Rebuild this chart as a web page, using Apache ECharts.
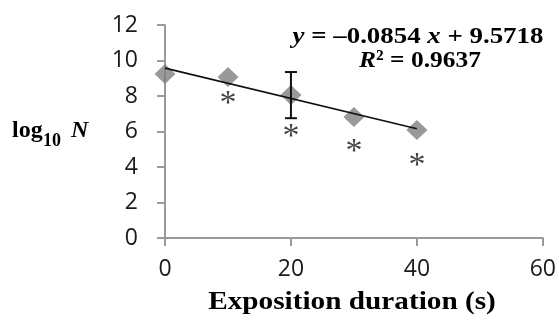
<!DOCTYPE html>
<html>
<head>
<meta charset="utf-8">
<script src="https://cdn.jsdelivr.net/npm/echarts@6/dist/echarts.min.js"></script>
<style>
html,body{margin:0;padding:0;background:#fff;}
#chart{width:559px;height:322px;}
</style>
</head>
<body>
<div id="chart"></div>
<script>
// Data
var durations = [0, 10, 20, 30, 40];
var logN = [9.24, 9.07, 8.06, 6.82, 6.08];
// error bar (only at 20 s): [x, low, high]
var errorBars = [[20, 6.75, 9.35]];
// trend line endpoints (y = -0.0854x + 9.5718)
var trendX = [0, 40];
var trendY = [9.57, 6.16];
// significance asterisks: x, y position
var starX = [10, 20, 30, 40];
var starY = [7.77, 5.92, 5.07, 4.28];
var xTicks = [0, 20, 40, 60];
var yTicks = [0, 2, 4, 6, 8, 10, 12];

var chart = echarts.init(document.getElementById('chart'), null, {renderer: 'canvas'});

var axisColor = '#9a9a9a';
var tickFont = 'Open Sans';
var serif = 'Liberation Serif';

var option = {
  animation: false,
  backgroundColor: '#fff',
  grid: {left: 165, right: 16, top: 25, bottom: 84, containLabel: false},
  xAxis: {
    type: 'value', min: xTicks[0], max: xTicks[xTicks.length - 1], interval: 20,
    axisLine: {show: true, lineStyle: {color: axisColor, width: 2}},
    axisTick: {show: true, length: 8, lineStyle: {color: axisColor, width: 2}},
    splitLine: {show: false},
    axisLabel: {margin: 20, fontSize: 23, fontFamily: tickFont, color: '#1a1a1a'}
  },
  yAxis: {
    type: 'value', min: yTicks[0], max: yTicks[yTicks.length - 1], interval: 2,
    axisLine: {show: true, lineStyle: {color: axisColor, width: 2}},
    axisTick: {show: true, length: 8, lineStyle: {color: axisColor, width: 2}},
    splitLine: {show: false},
    axisLabel: {margin: 27, fontSize: 23, fontFamily: tickFont, color: '#1a1a1a'}
  },
  series: [
    {
      type: 'scatter',
      data: durations.map(function (d, i) { return [d, logN[i]]; }),
      symbol: 'diamond',
      symbolSize: [21, 20],
      itemStyle: {color: '#7f7f7f'},
      z: 2
    },
    {
      type: 'custom',
      data: errorBars,
      renderItem: function (params, api) {
        var x = api.value(0);
        var lo = api.coord([x, api.value(1)]);
        var hi = api.coord([x, api.value(2)]);
        var hw = 6;
        var st = {stroke: '#111', lineWidth: 2};
        return {
          type: 'group',
          children: [
            {type: 'line', shape: {x1: lo[0], y1: lo[1], x2: hi[0], y2: hi[1]}, style: st},
            {type: 'line', shape: {x1: lo[0] - hw, y1: lo[1], x2: lo[0] + hw, y2: lo[1]}, style: st},
            {type: 'line', shape: {x1: hi[0] - hw, y1: hi[1], x2: hi[0] + hw, y2: hi[1]}, style: st}
          ]
        };
      },
      z: 3
    },
    {
      type: 'line',
      data: trendX.map(function (d, i) { return [d, trendY[i]]; }),
      symbol: 'none',
      lineStyle: {color: '#111', width: 1.6},
      z: 4
    },
    {
      type: 'scatter',
      data: starX.map(function (d, i) { return [d, starY[i]]; }),
      symbolSize: 1,
      itemStyle: {color: 'rgba(0,0,0,0)'},
      label: {
        show: true, position: 'inside', formatter: '*',
        fontFamily: serif, fontSize: 34, color: '#111', offset: [0, 4]
      },
      z: 5
    }
  ],
  graphic: [
    {
      type: 'text', x: 418, y: 37, scaleX: 1.12,
      style: {
        text: '{i|y} = \u20130.0854 {i|x} + 9.5718',
        rich: {i: {fontStyle: 'italic', fontWeight: 'bold', fontFamily: serif, fontSize: 24, fill: '#000'}},
        fontFamily: serif, fontWeight: 'bold', fontSize: 24, fill: '#000',
        align: 'center', verticalAlign: 'middle'
      }
    },
    {
      type: 'text', x: 420, y: 61, scaleX: 1.06,
      style: {
        text: '{i|R}\u00b2 = 0.9637',
        rich: {i: {fontStyle: 'italic', fontWeight: 'bold', fontFamily: serif, fontSize: 24, fill: '#000'}},
        fontFamily: serif, fontWeight: 'bold', fontSize: 24, fill: '#000',
        align: 'center', verticalAlign: 'middle'
      }
    },
    {
      type: 'text', x: 12, y: 131,
      style: {text: 'log', fontFamily: serif, fontWeight: 'bold', fontSize: 24, fill: '#000', align: 'left', verticalAlign: 'middle'}
    },
    {
      type: 'text', x: 43, y: 141,
      style: {text: '10', fontFamily: serif, fontWeight: 'bold', fontSize: 18, fill: '#000', align: 'left', verticalAlign: 'middle'}
    },
    {
      type: 'text', x: 71, y: 131,
      style: {text: 'N', fontFamily: serif, fontWeight: 'bold', fontStyle: 'italic', fontSize: 24, fill: '#000', align: 'left', verticalAlign: 'middle'}
    },
    {
      type: 'text', x: 352, y: 303, scaleX: 1.17,
      style: {text: 'Exposition duration (s)', fontFamily: serif, fontWeight: 'bold', fontSize: 25, fill: '#000', align: 'center', verticalAlign: 'middle'}
    }
  ]
};
chart.setOption(option);
</script>
</body>
</html>
